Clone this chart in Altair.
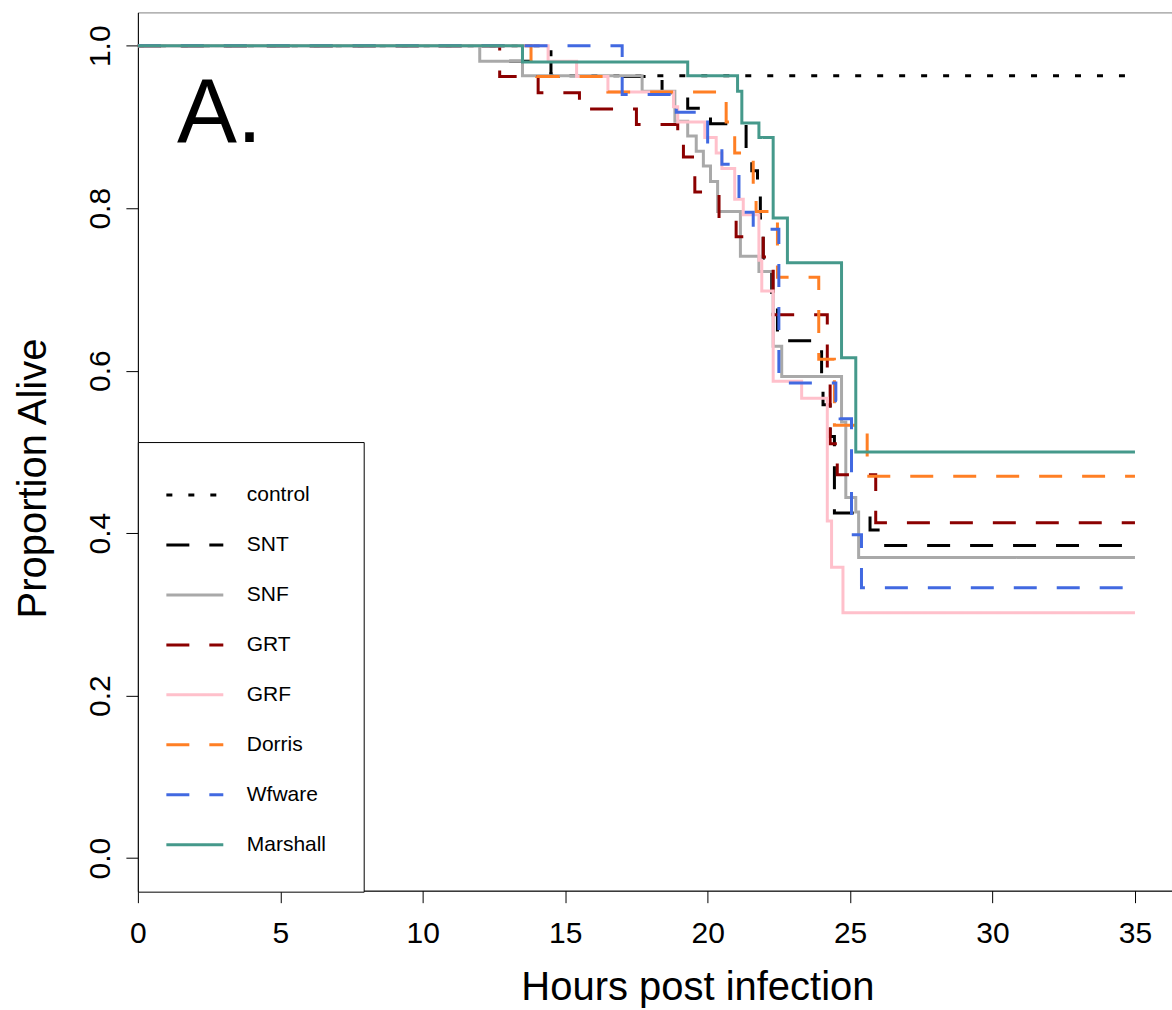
import altair as alt
import pandas as pd

# ---- data (hours post infection, proportion alive) ----
series_names = ["control", "SNT", "SNF", "GRT", "GRF", "Dorris", "Wfware", "Marshall"]
series_colors = ["#000000", "#000000", "#A9A9A9", "#8B0000", "#FFC0CB", "#FF7F24", "#4169E1", "#45998B"]
series_dashes = [[6, 16], [23, 20], [1, 0], [23, 20], [1, 0], [23, 20], [23, 20], [1, 0]]

control_t = [0, 14.5, 35]
control_p = [1.0, 0.963, 0.963]

snt_t = [0, 13.0, 14.5, 18.4, 19.3, 20.1, 21.35, 21.55, 21.75, 21.85, 21.95, 22.25, 22.45,
         24.0, 24.05, 24.3, 24.45, 25.7, 26.1, 35]
snt_p = [1.0, 0.981, 0.962, 0.942, 0.923, 0.904, 0.865, 0.846, 0.827, 0.788, 0.731, 0.692, 0.637,
         0.596, 0.558, 0.519, 0.425, 0.404, 0.385, 0.385]

snf_t = [0, 12.0, 13.5, 17.7, 18.85, 19.3, 19.6, 19.85, 20.1, 20.35, 21.15, 21.8, 22.3, 22.6,
         24.7, 24.85, 25.2, 25.3, 35]
snf_p = [1.0, 0.981, 0.963, 0.944, 0.907, 0.889, 0.870, 0.852, 0.833, 0.796, 0.741, 0.722, 0.630, 0.593,
         0.537, 0.444, 0.426, 0.370, 0.370]

grt_t = [0, 12.7, 14.05, 15.5, 17.5, 18.95, 19.15, 19.55, 20.4, 21.0, 21.95, 22.3, 24.2, 24.3,
         24.55, 25.9, 35]
grt_p = [1.0, 0.962, 0.942, 0.922, 0.903, 0.890, 0.863, 0.820, 0.786, 0.765, 0.740, 0.669, 0.590, 0.510,
         0.472, 0.413, 0.413]

grf_t = [0, 14.4, 15.4, 16.5, 18.8, 18.95, 19.9, 20.3, 20.5, 20.95, 21.25, 21.8, 21.9, 22.3, 23.3,
         24.2, 24.35, 24.75, 35]
grf_p = [1.0, 0.981, 0.962, 0.943, 0.925, 0.906, 0.887, 0.868, 0.849, 0.811, 0.792, 0.736, 0.698, 0.587, 0.566,
         0.415, 0.358, 0.302, 0.302]

dorris_t = [0, 13.8, 14.0, 16.5, 20.65, 20.95, 21.6, 21.7, 22.45, 23.9, 24.45, 25.6, 35]
dorris_p = [1.0, 0.981, 0.962, 0.943, 0.906, 0.868, 0.830, 0.796, 0.715, 0.614, 0.533, 0.470, 0.470]

wfware_t = [0, 17.0, 18.9, 20.0, 20.5, 21.1, 21.6, 22.5, 24.5, 24.65, 25.05, 25.4, 35]
wfware_p = [1.0, 0.940, 0.918, 0.876, 0.854, 0.795, 0.774, 0.585, 0.563, 0.541, 0.398, 0.333, 0.333]

marshall_t = [0, 13.5, 19.3, 21.05, 21.2, 21.8, 22.3, 22.8, 24.7, 25.2, 35]
marshall_p = [1.0, 0.980, 0.963, 0.944, 0.905, 0.887, 0.788, 0.733, 0.616, 0.500, 0.500]

x_ticks = [0, 5, 10, 15, 20, 25, 30, 35]
y_ticks = [0.0, 0.2, 0.4, 0.6, 0.8, 1.0]
panel_label = ["A."]
panel_label_x = [1.37]
panel_label_y = [0.882]

# ---- build table ----
all_t = [control_t, snt_t, snf_t, grt_t, grf_t, dorris_t, wfware_t, marshall_t]
all_p = [control_p, snt_p, snf_p, grt_p, grf_p, dorris_p, wfware_p, marshall_p]
rows = []
for name, ts, ps in zip(series_names, all_t, all_p):
    for t, p in zip(ts, ps):
        rows.append({"group": name, "hours": t, "alive": p})
df = pd.DataFrame(rows)
label_df = pd.DataFrame({"txt": panel_label, "x": panel_label_x, "y": panel_label_y})

FONT = "Liberation Sans"
W, H = 1035, 879

xscale = alt.Scale(domain=[0, 36.30], nice=False, zero=False)
yscale = alt.Scale(domain=[-0.040, 1.041], nice=False, zero=False)

legend = alt.Legend(
    title=None, orient="none", legendX=0, legendY=430,
    strokeColor="black", fillColor="white", padding=37,
    symbolType="M-2,0L2,0", symbolSize=812, symbolStrokeWidth=3,
    symbolOffset=4, labelOffset=36, labelFont=FONT, labelFontSize=21,
    labelColor="black", rowPadding=24, labelLimit=400,
    labelExpr="datum.label + '\u00a0\u00a0\u00a0\u00a0\u00a0'",
)

lines = alt.Chart(df).mark_line(interpolate="step-after", strokeWidth=3).encode(
    x=alt.X("hours:Q", scale=xscale, axis=alt.Axis(
        values=x_ticks, title="Hours post infection", labelBaseline="alphabetic",
        labelPadding=40, labelFlush=False, titleBaseline="alphabetic", titleY=109, titleX=560,
        titleAlign="center", titleAnchor="start")),
    y=alt.Y("alive:Q", scale=yscale, axis=alt.Axis(
        values=y_ticks, format=".1f", title="Proportion Alive", labelAngle=270,
        labelAlign="center", labelBaseline="alphabetic", labelPadding=16, labelFlush=False,
        titleAngle=270, titleBaseline="alphabetic", titleX=-92, titleY=466,
        titleAlign="center", titleAnchor="start")),
    color=alt.Color("group:N", scale=alt.Scale(domain=series_names, range=series_colors), legend=legend),
    strokeDash=alt.StrokeDash("group:N", scale=alt.Scale(domain=series_names, range=series_dashes), legend=legend),
    detail="group:N",
)

label = alt.Chart(label_df).mark_text(
    font=FONT, fontSize=90, align="left", baseline="alphabetic", color="black"
).encode(x=alt.X("x:Q", scale=xscale), y=alt.Y("y:Q", scale=yscale), text="txt:N")

chart = alt.layer(lines, label).properties(
    width=W, height=H,
    autosize=alt.AutoSizeParams(type="none"),
    padding={"left": 138, "top": 12, "right": 0, "bottom": 119},
    background="white",
).configure_view(
    stroke="#808080", strokeWidth=1
).configure_axis(
    grid=False, domainColor="black", domainWidth=1, tickColor="black", tickSize=12,
    tickWidth=1, labelFont=FONT, labelFontSize=30, labelColor="black",
    titleFont=FONT, titleFontSize=40, titleFontWeight="normal", titleColor="black",
)

chart.save("out.html", embed_options={"renderer": "svg", "actions": False})
